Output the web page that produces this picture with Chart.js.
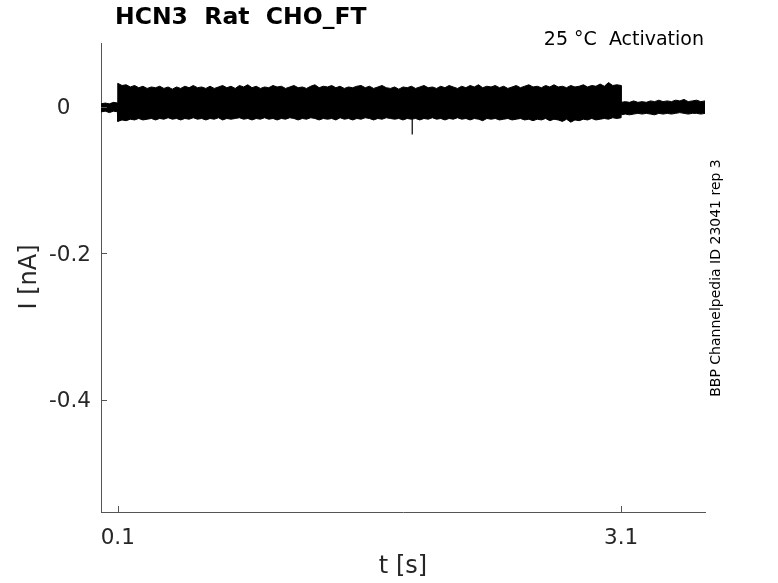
<!DOCTYPE html>
<html>
<head>
<meta charset="utf-8">
<script src="https://cdn.jsdelivr.net/npm/chart.js@4.4.0/dist/chart.umd.min.js"></script>
<style>
  html, body { margin: 0; padding: 0; background: #fff; }
  canvas { display: block; }
</style>
</head>
<body>
<canvas id="trace" width="778" height="583"></canvas>
<script>
const timeS = [
    0, 0.025, 0.05, 0.075, 0.1,
    0.1, 0.125, 0.15, 0.175, 0.2, 0.225, 0.25, 0.275, 0.3, 0.325,
    0.35, 0.375, 0.4, 0.425, 0.45, 0.475, 0.5, 0.525, 0.55, 0.575,
    0.6, 0.625, 0.65, 0.675, 0.7, 0.725, 0.75, 0.775, 0.8, 0.825,
    0.85, 0.875, 0.9, 0.925, 0.95, 0.975, 1.0, 1.025, 1.05, 1.075,
    1.1, 1.125, 1.15, 1.175, 1.2, 1.225, 1.25, 1.275, 1.3, 1.325,
    1.35, 1.375, 1.4, 1.425, 1.45, 1.475, 1.5, 1.525, 1.55, 1.575,
    1.6, 1.625, 1.65, 1.675, 1.7, 1.725, 1.75, 1.775, 1.8, 1.825,
    1.85, 1.875, 1.9, 1.925, 1.95, 1.975, 2.0, 2.025, 2.05, 2.075,
    2.1, 2.125, 2.15, 2.175, 2.2, 2.225, 2.25, 2.275, 2.3, 2.325,
    2.35, 2.375, 2.4, 2.425, 2.45, 2.475, 2.5, 2.525, 2.55, 2.575,
    2.6, 2.625, 2.65, 2.675, 2.7, 2.725, 2.75, 2.775, 2.8, 2.825,
    2.85, 2.875, 2.9, 2.925, 2.95, 2.975, 3.0, 3.025, 3.05, 3.075,
    3.1,
    3.1, 3.125, 3.15, 3.175, 3.2, 3.225, 3.25, 3.275, 3.3, 3.325,
    3.35, 3.375, 3.4, 3.425, 3.45, 3.475, 3.5, 3.525, 3.55, 3.575, 3.6
];
// Upper edge of the current band (nA)
const upperNA = [
    0.004, 0.005, 0.004, 0.006, 0.005,
    0.032, 0.029, 0.030, 0.027, 0.029, 0.026, 0.028, 0.025, 0.027, 0.026,
    0.028, 0.025, 0.027, 0.024, 0.027, 0.025, 0.028, 0.026, 0.029, 0.026,
    0.027, 0.025, 0.028, 0.025, 0.027, 0.029, 0.026, 0.028, 0.025, 0.029,
    0.027, 0.030, 0.026, 0.028, 0.025, 0.027, 0.026, 0.029, 0.027, 0.028,
    0.025, 0.027, 0.029, 0.026, 0.027, 0.025, 0.028, 0.030, 0.026, 0.028,
    0.027, 0.029, 0.026, 0.028, 0.025, 0.027, 0.026, 0.028, 0.029, 0.026,
    0.028, 0.025, 0.027, 0.029, 0.026, 0.025, 0.027, 0.024, 0.027, 0.026,
    0.028, 0.025, 0.027, 0.029, 0.026, 0.027, 0.025, 0.028, 0.026, 0.029,
    0.027, 0.025, 0.028, 0.026, 0.029, 0.027, 0.030, 0.026, 0.028, 0.027,
    0.029, 0.026, 0.028, 0.025, 0.027, 0.029, 0.026, 0.028, 0.030, 0.027,
    0.028, 0.026, 0.029, 0.027, 0.030, 0.027, 0.028, 0.026, 0.029, 0.027,
    0.028, 0.030, 0.027, 0.029, 0.028, 0.031, 0.028, 0.033, 0.029, 0.030,
    0.029,
    0.006, 0.007, 0.006, 0.008, 0.006, 0.007, 0.006, 0.008, 0.007, 0.009,
    0.007, 0.008, 0.007, 0.009, 0.008, 0.010, 0.007, 0.008, 0.009, 0.007, 0.008
];
// Lower edge of the current band (nA)
const lowerNA = [
    -0.007, -0.006, -0.008, -0.006, -0.007,
    -0.020, -0.018, -0.019, -0.017, -0.018, -0.016, -0.018, -0.017, -0.016, -0.018,
    -0.016, -0.017, -0.015, -0.017, -0.016, -0.018, -0.016, -0.017, -0.015, -0.017,
    -0.016, -0.018, -0.016, -0.017, -0.015, -0.018, -0.016, -0.017, -0.016, -0.015,
    -0.017, -0.016, -0.018, -0.016, -0.017, -0.015, -0.017, -0.016, -0.018, -0.016,
    -0.017, -0.015, -0.016, -0.018, -0.016, -0.017, -0.015, -0.016, -0.018, -0.016,
    -0.017, -0.016, -0.018, -0.015, -0.017, -0.016, -0.018, -0.016, -0.017, -0.015,
    -0.016, -0.018, -0.016, -0.017, -0.015, -0.016, -0.017, -0.016, -0.018, -0.016,
    -0.017, -0.016, -0.018, -0.016, -0.017, -0.015, -0.017, -0.016, -0.018, -0.016,
    -0.017, -0.015, -0.017, -0.016, -0.018, -0.016, -0.017, -0.019, -0.016, -0.017,
    -0.016, -0.018, -0.017, -0.016, -0.018, -0.017, -0.016, -0.018, -0.017, -0.019,
    -0.017, -0.018, -0.016, -0.019, -0.017, -0.018, -0.020, -0.017, -0.021, -0.018,
    -0.019, -0.017, -0.018, -0.016, -0.018, -0.017, -0.016, -0.017, -0.015, -0.016,
    -0.015,
    -0.011, -0.010, -0.011, -0.010, -0.009, -0.010, -0.009, -0.010, -0.011, -0.009,
    -0.010, -0.009, -0.010, -0.009, -0.008, -0.009, -0.010, -0.009, -0.009, -0.010, -0.009
];
// Single downward spike in the middle of the trace
const spikeT = [1.855, 1.855];
const spikeNA = [-0.015, -0.038];

const xTickValues = [0.1, 3.1];
const yTickValues = [-0.4, -0.2, 0];

const toPoints = (xs, ys) => xs.map((x, i) => ({ x: x, y: ys[i] }));

const axisColor = '#555555';
const textColor = '#262626';

// Titles, side notes and inward tick marks
const decorations = {
    id: 'decorations',
    afterDraw(chart) {
        const ctx = chart.ctx;
        const xs = chart.scales.x;
        const ys = chart.scales.y;
        const area = chart.chartArea;

        ctx.save();
        ctx.strokeStyle = axisColor;
        ctx.lineWidth = 1;
        ctx.beginPath();
        xTickValues.forEach(v => {
            const px = Math.round(xs.getPixelForValue(v)) + 0.5;
            ctx.moveTo(px, area.bottom);
            ctx.lineTo(px, area.bottom - 6);
        });
        yTickValues.forEach(v => {
            const py = Math.round(ys.getPixelForValue(v)) + 0.5;
            ctx.moveTo(area.left, py);
            ctx.lineTo(area.left + 6, py);
        });
        ctx.stroke();

        ctx.fillStyle = '#000';
        ctx.textBaseline = 'middle';
        ctx.font = 'bold 23.5px "DejaVu Sans"';
        ctx.textAlign = 'left';
        ctx.fillText('HCN3  Rat  CHO_FT', 115, 18);

        ctx.font = '19px "DejaVu Sans"';
        ctx.textAlign = 'right';
        ctx.fillText('25 °C  Activation', 704, 40);

        ctx.fillStyle = textColor;
        ctx.font = '24px "DejaVu Sans"';
        ctx.textAlign = 'center';
        ctx.fillText('t [s]', 403, 567);

        ctx.save();
        ctx.translate(30, 277);
        ctx.rotate(-Math.PI / 2);
        ctx.fillText('I [nA]', 0, 0);
        ctx.restore();

        ctx.save();
        ctx.fillStyle = '#000';
        ctx.translate(716, 278);
        ctx.rotate(-Math.PI / 2);
        ctx.font = '14px "DejaVu Sans"';
        ctx.fillText('BBP Channelpedia ID 23041 rep 3', 0, 0);
        ctx.restore();

        ctx.restore();
    }
};

new Chart(document.getElementById('trace'), {
    type: 'line',
    data: {
        datasets: [
            {
                data: toPoints(timeS, upperNA),
                borderColor: '#000',
                borderWidth: 1,
                pointRadius: 0,
                fill: false
            },
            {
                data: toPoints(timeS, lowerNA),
                borderColor: '#000',
                backgroundColor: '#000',
                borderWidth: 1,
                pointRadius: 0,
                fill: '-1'
            },
            {
                data: toPoints(spikeT, spikeNA),
                borderColor: '#000',
                borderWidth: 1.2,
                pointRadius: 0,
                fill: false
            }
        ]
    },
    options: {
        responsive: false,
        animation: false,
        layout: { padding: { top: 43, right: 73, left: 0, bottom: 0 } },
        plugins: {
            legend: { display: false },
            tooltip: { enabled: false }
        },
        scales: {
            x: {
                type: 'linear',
                min: 0,
                max: 3.6,
                afterFit: s => { s.height = 71; },
                afterBuildTicks: s => { s.ticks = xTickValues.map(v => ({ value: v })); },
                grid: { display: false, drawTicks: false },
                border: { display: true, color: axisColor, width: 1 },
                ticks: {
                    padding: 14,
                    color: textColor,
                    font: { family: 'DejaVu Sans', size: 21.5 },
                    maxRotation: 0,
                    autoSkip: false,
                    callback: v => v.toFixed(1)
                }
            },
            y: {
                type: 'linear',
                min: -0.553,
                max: 0.087,
                afterFit: s => { s.width = 101; },
                afterBuildTicks: s => { s.ticks = yTickValues.map(v => ({ value: v })); },
                grid: { display: false, drawTicks: false },
                border: { display: true, color: axisColor, width: 1 },
                ticks: {
                    padding: 10,
                    labelOffset: 2,
                    color: textColor,
                    font: { family: 'DejaVu Sans', size: 21.5 },
                    autoSkip: false,
                    callback: v => v === 0 ? '0   ' : v.toFixed(1)
                }
            }
        }
    },
    plugins: [decorations]
});
</script>
</body>
</html>
